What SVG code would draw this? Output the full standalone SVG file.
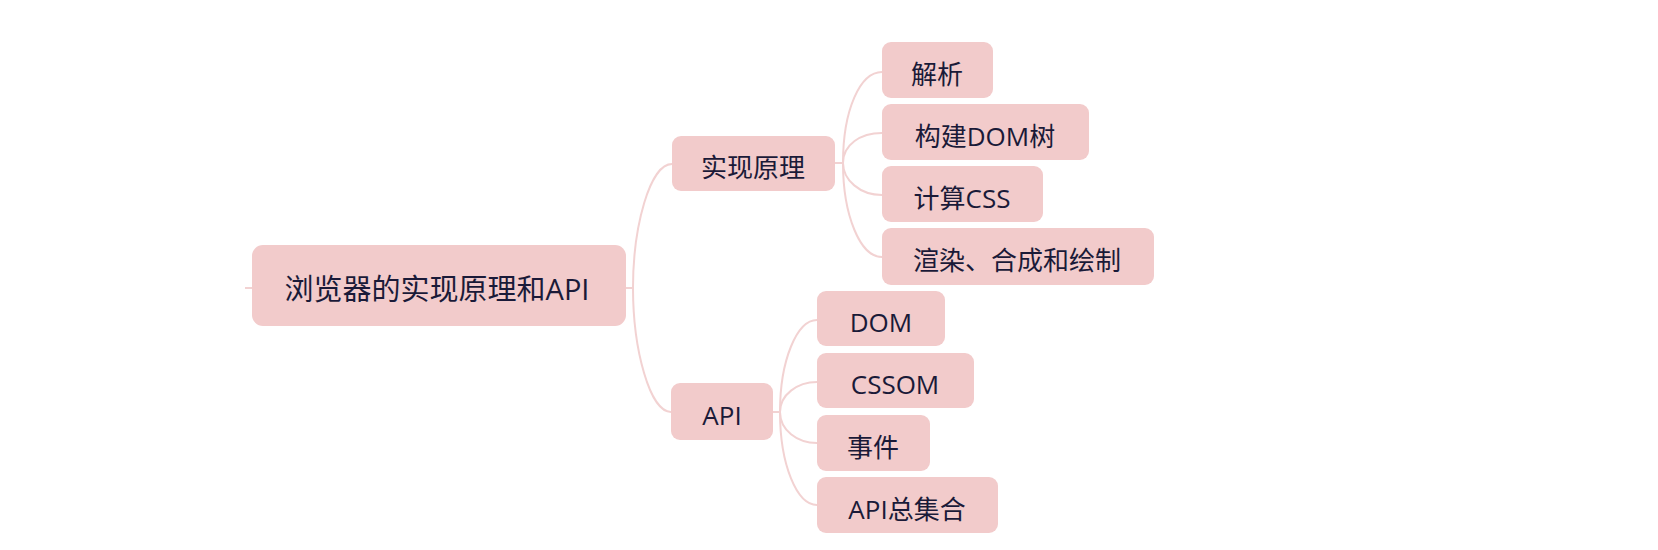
<svg xmlns="http://www.w3.org/2000/svg" width="1658" height="550" viewBox="0 0 1658 550">
<style>
.box{fill:#f2cbcb;}
.lbl{font-family:"Open Sans","Noto Sans CJK SC",sans-serif;font-size:26px;font-weight:400;fill:#1a1a38;text-anchor:middle;}
.root{font-size:29px;}
.conn{fill:none;stroke:#f2d2d2;stroke-width:2;}
</style>
<rect width="1658" height="550" fill="#ffffff"/>
<g id="connectors">
<path class="conn" d="M245 288 H252"/>
<path class="conn" d="M626 288 H633"/>
<path class="conn" d="M633 288 C633 226 650 164 672 164"/>
<path class="conn" d="M633 288 C633 350 650 412 671 412"/>
<path class="conn" d="M835 163 H843"/>
<path class="conn" d="M843 163 C843 110 860 72 882 72"/>
<path class="conn" d="M843 163 C843 145 860 133 882 133"/>
<path class="conn" d="M843 163 C843 180 860 195 882 195"/>
<path class="conn" d="M843 163 C843 215 860 257 882 257"/>
<path class="conn" d="M773 412 H780"/>
<path class="conn" d="M780 412 C780 360 797 320 817 320"/>
<path class="conn" d="M780 412 C780 395 797 382 817 382"/>
<path class="conn" d="M780 412 C780 430 797 443 817 443"/>
<path class="conn" d="M780 412 C780 465 797 505 817 505"/>
</g>
<g id="root">
<rect class="box" x="252" y="245" width="374" height="81" rx="11"/>
<text class="lbl root" x="437" y="300">浏览器的实现原理和API</text>
</g>
<g id="impl">
<rect class="box" x="672" y="136" width="163" height="55" rx="9"/>
<text class="lbl" x="753" y="177">实现原理</text>
</g>
<g id="parse">
<rect class="box" x="882" y="42" width="111" height="56" rx="9"/>
<text class="lbl" x="937" y="84">解析</text>
</g>
<g id="buildDom">
<rect class="box" x="882" y="104" width="207" height="56" rx="9"/>
<text class="lbl" x="985" y="146">构建DOM树</text>
</g>
<g id="calcCss">
<rect class="box" x="882" y="166" width="161" height="56" rx="9"/>
<text class="lbl" x="962" y="208">计算CSS</text>
</g>
<g id="render">
<rect class="box" x="882" y="228" width="272" height="57" rx="9"/>
<text class="lbl" x="1017" y="270">渲染、合成和绘制</text>
</g>
<g id="api">
<rect class="box" x="671" y="383" width="102" height="57" rx="9"/>
<text class="lbl" x="722" y="425">API</text>
</g>
<g id="dom">
<rect class="box" x="817" y="291" width="128" height="55" rx="9"/>
<text class="lbl" x="881" y="332">DOM</text>
</g>
<g id="cssom">
<rect class="box" x="817" y="353" width="157" height="55" rx="9"/>
<text class="lbl" x="895" y="394">CSSOM</text>
</g>
<g id="events">
<rect class="box" x="817" y="415" width="113" height="56" rx="9"/>
<text class="lbl" x="873" y="457">事件</text>
</g>
<g id="apiAll">
<rect class="box" x="817" y="477" width="181" height="56" rx="9"/>
<text class="lbl" x="907" y="519">API总集合</text>
</g>
</svg>
